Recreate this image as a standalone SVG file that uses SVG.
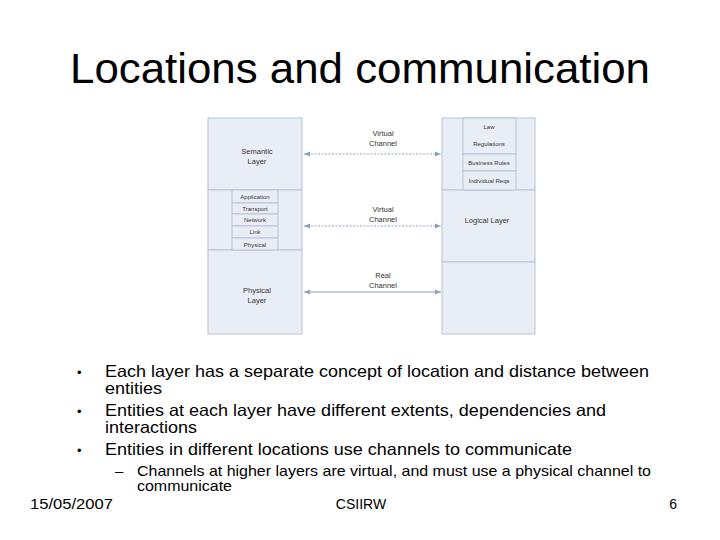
<svg xmlns="http://www.w3.org/2000/svg" width="720" height="540" viewBox="0 0 720 540">
<style>
.b{fill:#e9eef6;stroke:#b8c3d3;stroke-width:1}
.s{font-family:"Liberation Sans",Arial,sans-serif;font-size:7.5px;fill:#333;text-anchor:middle}
.t{font-family:"Liberation Sans",Arial,sans-serif;font-size:6px;fill:#333;text-anchor:middle}
.m{font-family:"Liberation Sans",Arial,sans-serif;fill:#000}
.c{stroke:#8da2bb;stroke-width:1;fill:none}
</style>
<defs><marker id="a" viewBox="0 0 10 10" refX="10" refY="5" markerWidth="6" markerHeight="6" orient="auto-start-reverse"><path d="M0,1L10,5L0,9z" fill="#8da2bb"/></marker></defs>
<rect width="720" height="540" fill="#fff"/>
<text class="m" x="360" y="83" font-size="42" text-anchor="middle" textLength="580" lengthAdjust="spacingAndGlyphs">Locations and communication</text>
<g id="left">
<rect class="b" x="208" y="118" width="94" height="72"/>
<rect class="b" x="208" y="190" width="94" height="60"/>
<rect class="b" x="208" y="250" width="94" height="84"/>
<rect class="b" x="232" y="190" width="46" height="13"/>
<rect class="b" x="232" y="203" width="46" height="11"/>
<rect class="b" x="232" y="214" width="46" height="12"/>
<rect class="b" x="232" y="226" width="46" height="12"/>
<rect class="b" x="232" y="238" width="46" height="12"/>
<text class="s" x="257" y="154">Semantic</text><text class="s" x="257" y="164">Layer</text>
<text class="t" x="255" y="199">Application</text>
<text class="t" x="255" y="211">Transport</text>
<text class="t" x="255" y="222">Network</text>
<text class="t" x="255" y="234">Link</text>
<text class="t" x="255" y="247">Physical</text>
<text class="s" x="257" y="293">Physical</text><text class="s" x="257" y="303">Layer</text>
</g>
<g id="right">
<rect class="b" x="442" y="118" width="93" height="72"/>
<rect class="b" x="442" y="190" width="93" height="72"/>
<rect class="b" x="442" y="262" width="93" height="72"/>
<rect class="b" x="463" y="118" width="53" height="36"/>
<rect class="b" x="463" y="154" width="53" height="17"/>
<rect class="b" x="463" y="171" width="53" height="19"/>
<text class="t" x="489" y="129">Law</text>
<text class="t" x="489" y="146">Regulations</text>
<text class="t" x="489" y="165">Business Rules</text>
<text class="t" x="489" y="183">Individual Reqs</text>
<text class="s" x="487" y="223">Logical Layer</text>
</g>
<g id="connectors">
<line class="c" x1="304" y1="154" x2="441" y2="154" stroke-dasharray="2,1.5" marker-start="url(#a)" marker-end="url(#a)"/>
<line class="c" x1="304" y1="226" x2="441" y2="226" stroke-dasharray="2,1.5" marker-start="url(#a)" marker-end="url(#a)"/>
<line class="c" x1="304" y1="292" x2="441" y2="292" marker-start="url(#a)" marker-end="url(#a)"/>
<text class="s" x="383" y="136">Virtual</text><text class="s" x="383" y="146">Channel</text>
<text class="s" x="383" y="212">Virtual</text><text class="s" x="383" y="222">Channel</text>
<text class="s" x="383" y="278">Real</text><text class="s" x="383" y="288">Channel</text>
</g>
<g class="m" font-size="16.5">
<text x="77" y="377" font-size="13">•</text><text x="105" y="377" textLength="544" lengthAdjust="spacingAndGlyphs">Each layer has a separate concept of location and distance between</text>
<text x="105" y="394" textLength="57" lengthAdjust="spacingAndGlyphs">entities</text>
<text x="77" y="416" font-size="13">•</text><text x="105" y="416" textLength="501" lengthAdjust="spacingAndGlyphs">Entities at each layer have different extents, dependencies and</text>
<text x="105" y="433" textLength="92" lengthAdjust="spacingAndGlyphs">interactions</text>
<text x="77" y="455" font-size="13">•</text><text x="105" y="455" textLength="467" lengthAdjust="spacingAndGlyphs">Entities in different locations use channels to communicate</text>
<text x="115" y="476" font-size="15">–</text><text x="137" y="476" font-size="15" textLength="514" lengthAdjust="spacingAndGlyphs">Channels at higher layers are virtual, and must use a physical channel to</text>
<text x="137" y="491" font-size="15" textLength="95" lengthAdjust="spacingAndGlyphs">communicate</text>
<text x="30" y="509" font-size="14" textLength="83" lengthAdjust="spacingAndGlyphs">15/05/2007</text>
<text x="361" y="509" font-size="14" text-anchor="middle">CSIIRW</text>
<text x="677" y="509" font-size="14" text-anchor="end">6</text>
</g>
</svg>
